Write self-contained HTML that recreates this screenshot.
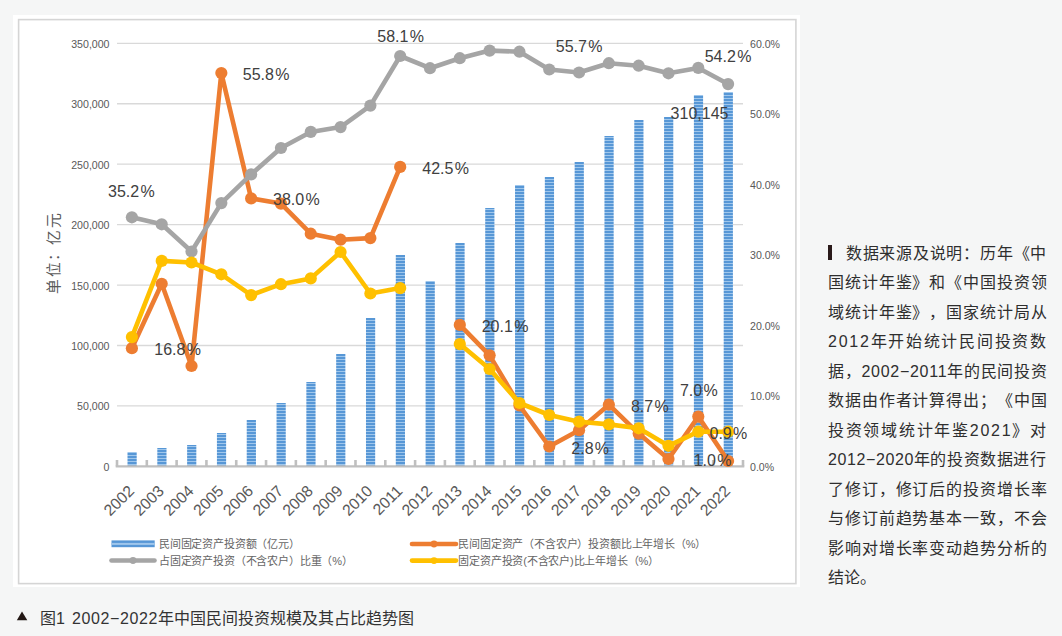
<!DOCTYPE html>
<html lang="zh-CN"><head><meta charset="utf-8">
<style>
html,body{margin:0;padding:0;}
body{width:1062px;height:636px;overflow:hidden;background:#f5f6f6;position:relative;font-family:"Liberation Sans",sans-serif;}
.panel{position:absolute;left:13px;top:15px;width:787px;height:572px;background:#fff;}
.frame{position:absolute;left:18px;top:19px;width:776px;height:563px;border:1px solid #d6d6d6;}
svg{position:absolute;left:0;top:0;}
.ax{font-size:10.6px;fill:#595959;}
.yr{font-size:15.8px;fill:#595959;}
.dl{font-size:16px;fill:#404040;}
.yt{font-size:14.8px;fill:#595959;letter-spacing:1.4px;}
.lg{font-size:11px;fill:#666;letter-spacing:-0.17px;}
.nl{position:absolute;font-size:16px;line-height:20px;color:#2e2e2e;font-weight:500;white-space:nowrap;text-spacing-trim:space-all;}
.nbar{position:absolute;left:828px;top:244.6px;width:4.3px;height:15.3px;background:#2a1a1a;}
.cap{position:absolute;top:609px;font-size:16px;line-height:20px;color:#333;white-space:nowrap;}
</style></head><body>
<div class="panel"></div>
<svg width="1062" height="636" viewBox="0 0 1062 636">
<rect x="18.6" y="19.6" width="777.3" height="564" fill="none" stroke="#d5d5d5" stroke-width="1.6"/>
<defs><pattern id="st" patternUnits="userSpaceOnUse" width="9" height="3" y="0"><rect width="9" height="3" fill="#a0c7ec"/><rect width="9" height="2" fill="#5797d6"/></pattern></defs>
<line x1="117.0" x2="743.0" y1="405.96" y2="405.96" stroke="#d9d9d9" stroke-width="1.3"/>
<line x1="117.0" x2="743.0" y1="345.52" y2="345.52" stroke="#d9d9d9" stroke-width="1.3"/>
<line x1="117.0" x2="743.0" y1="285.08" y2="285.08" stroke="#d9d9d9" stroke-width="1.3"/>
<line x1="117.0" x2="743.0" y1="224.64" y2="224.64" stroke="#d9d9d9" stroke-width="1.3"/>
<line x1="117.0" x2="743.0" y1="164.20" y2="164.20" stroke="#d9d9d9" stroke-width="1.3"/>
<line x1="117.0" x2="743.0" y1="103.76" y2="103.76" stroke="#d9d9d9" stroke-width="1.3"/>
<line x1="117.0" x2="743.0" y1="43.32" y2="43.32" stroke="#d9d9d9" stroke-width="1.3"/>
<rect x="127.50" y="452" width="9.2" height="14" fill="url(#st)"/>
<rect x="157.31" y="448" width="9.2" height="18" fill="url(#st)"/>
<rect x="187.12" y="445" width="9.2" height="21" fill="url(#st)"/>
<rect x="216.93" y="433" width="9.2" height="33" fill="url(#st)"/>
<rect x="246.74" y="420" width="9.2" height="46" fill="url(#st)"/>
<rect x="276.55" y="403" width="9.2" height="63" fill="url(#st)"/>
<rect x="306.36" y="382" width="9.2" height="84" fill="url(#st)"/>
<rect x="336.17" y="354" width="9.2" height="112" fill="url(#st)"/>
<rect x="365.98" y="318" width="9.2" height="148" fill="url(#st)"/>
<rect x="395.79" y="255" width="9.2" height="211" fill="url(#st)"/>
<rect x="425.60" y="281" width="9.2" height="185" fill="url(#st)"/>
<rect x="455.41" y="243" width="9.2" height="223" fill="url(#st)"/>
<rect x="485.22" y="208" width="9.2" height="258" fill="url(#st)"/>
<rect x="515.03" y="185" width="9.2" height="281" fill="url(#st)"/>
<rect x="544.84" y="177" width="9.2" height="289" fill="url(#st)"/>
<rect x="574.65" y="162" width="9.2" height="304" fill="url(#st)"/>
<rect x="604.46" y="136" width="9.2" height="330" fill="url(#st)"/>
<rect x="634.27" y="120" width="9.2" height="346" fill="url(#st)"/>
<rect x="664.08" y="117" width="9.2" height="349" fill="url(#st)"/>
<rect x="693.89" y="95" width="9.2" height="371" fill="url(#st)"/>
<rect x="723.70" y="92" width="9.2" height="374" fill="url(#st)"/>
<line x1="115.7" x2="744.3" y1="466.4" y2="466.4" stroke="#bfbfbf" stroke-width="2.4"/>
<line x1="117.00" x2="117.00" y1="460.0" y2="466.4" stroke="#bfbfbf" stroke-width="2.6"/>
<line x1="146.81" x2="146.81" y1="460.0" y2="466.4" stroke="#bfbfbf" stroke-width="2.6"/>
<line x1="176.62" x2="176.62" y1="460.0" y2="466.4" stroke="#bfbfbf" stroke-width="2.6"/>
<line x1="206.43" x2="206.43" y1="460.0" y2="466.4" stroke="#bfbfbf" stroke-width="2.6"/>
<line x1="236.24" x2="236.24" y1="460.0" y2="466.4" stroke="#bfbfbf" stroke-width="2.6"/>
<line x1="266.05" x2="266.05" y1="460.0" y2="466.4" stroke="#bfbfbf" stroke-width="2.6"/>
<line x1="295.86" x2="295.86" y1="460.0" y2="466.4" stroke="#bfbfbf" stroke-width="2.6"/>
<line x1="325.67" x2="325.67" y1="460.0" y2="466.4" stroke="#bfbfbf" stroke-width="2.6"/>
<line x1="355.48" x2="355.48" y1="460.0" y2="466.4" stroke="#bfbfbf" stroke-width="2.6"/>
<line x1="385.29" x2="385.29" y1="460.0" y2="466.4" stroke="#bfbfbf" stroke-width="2.6"/>
<line x1="415.10" x2="415.10" y1="460.0" y2="466.4" stroke="#bfbfbf" stroke-width="2.6"/>
<line x1="444.90" x2="444.90" y1="460.0" y2="466.4" stroke="#bfbfbf" stroke-width="2.6"/>
<line x1="474.71" x2="474.71" y1="460.0" y2="466.4" stroke="#bfbfbf" stroke-width="2.6"/>
<line x1="504.52" x2="504.52" y1="460.0" y2="466.4" stroke="#bfbfbf" stroke-width="2.6"/>
<line x1="534.33" x2="534.33" y1="460.0" y2="466.4" stroke="#bfbfbf" stroke-width="2.6"/>
<line x1="564.14" x2="564.14" y1="460.0" y2="466.4" stroke="#bfbfbf" stroke-width="2.6"/>
<line x1="593.95" x2="593.95" y1="460.0" y2="466.4" stroke="#bfbfbf" stroke-width="2.6"/>
<line x1="623.76" x2="623.76" y1="460.0" y2="466.4" stroke="#bfbfbf" stroke-width="2.6"/>
<line x1="653.57" x2="653.57" y1="460.0" y2="466.4" stroke="#bfbfbf" stroke-width="2.6"/>
<line x1="683.38" x2="683.38" y1="460.0" y2="466.4" stroke="#bfbfbf" stroke-width="2.6"/>
<line x1="713.19" x2="713.19" y1="460.0" y2="466.4" stroke="#bfbfbf" stroke-width="2.6"/>
<line x1="743.00" x2="743.00" y1="460.0" y2="466.4" stroke="#bfbfbf" stroke-width="2.6"/>
<path d="M131.90,348.20 C131.90,348.20 161.71,283.80 161.71,283.80 C161.71,283.80 191.52,366.00 191.52,366.00 C191.52,366.00 221.33,73.00 221.33,73.00 C221.33,73.00 251.14,198.40 251.14,198.40 C251.14,198.40 280.95,203.60 280.95,203.60 C280.95,203.60 310.76,233.70 310.76,233.70 C310.76,233.70 340.57,239.70 340.57,239.70 C340.57,239.70 370.38,238.10 370.38,238.10 C370.38,238.10 400.19,166.90 400.19,166.90" fill="none" stroke="#ed7d31" stroke-width="4.6" stroke-linejoin="round" stroke-linecap="round"/>
<circle cx="131.90" cy="348.2" r="6.1" fill="#ed7d31"/>
<circle cx="161.71" cy="283.8" r="6.1" fill="#ed7d31"/>
<circle cx="191.52" cy="366" r="6.1" fill="#ed7d31"/>
<circle cx="221.33" cy="73" r="6.1" fill="#ed7d31"/>
<circle cx="251.14" cy="198.4" r="6.1" fill="#ed7d31"/>
<circle cx="280.95" cy="203.6" r="6.1" fill="#ed7d31"/>
<circle cx="310.76" cy="233.7" r="6.1" fill="#ed7d31"/>
<circle cx="340.57" cy="239.7" r="6.1" fill="#ed7d31"/>
<circle cx="370.38" cy="238.1" r="6.1" fill="#ed7d31"/>
<circle cx="400.19" cy="166.9" r="6.1" fill="#ed7d31"/>
<path d="M459.81,324.90 C459.81,324.90 489.62,355.30 489.62,355.30 C489.62,355.30 519.43,405.50 519.43,405.50 C519.43,405.50 549.24,446.50 549.24,446.50 C549.24,446.50 579.05,430.20 579.05,430.20 C579.05,430.20 608.86,404.70 608.86,404.70 C608.86,404.70 638.67,433.60 638.67,433.60 C638.67,433.60 668.48,459.00 668.48,459.00 C668.48,459.00 698.29,416.60 698.29,416.60 C698.29,416.60 728.10,461.00 728.10,461.00" fill="none" stroke="#ed7d31" stroke-width="4.6" stroke-linejoin="round" stroke-linecap="round"/>
<circle cx="459.81" cy="324.9" r="6.1" fill="#ed7d31"/>
<circle cx="489.62" cy="355.3" r="6.1" fill="#ed7d31"/>
<circle cx="519.43" cy="405.5" r="6.1" fill="#ed7d31"/>
<circle cx="549.24" cy="446.5" r="6.1" fill="#ed7d31"/>
<circle cx="579.05" cy="430.2" r="6.1" fill="#ed7d31"/>
<circle cx="608.86" cy="404.7" r="6.1" fill="#ed7d31"/>
<circle cx="638.67" cy="433.6" r="6.1" fill="#ed7d31"/>
<circle cx="668.48" cy="459" r="6.1" fill="#ed7d31"/>
<circle cx="698.29" cy="416.6" r="6.1" fill="#ed7d31"/>
<circle cx="728.10" cy="461" r="6.1" fill="#ed7d31"/>
<path d="M131.90,217.30 C131.90,217.30 161.71,224.30 161.71,224.30 C161.71,224.30 191.52,251.50 191.52,251.50 C191.52,251.50 221.33,203.10 221.33,203.10 C221.33,203.10 251.14,174.40 251.14,174.40 C251.14,174.40 280.95,148.00 280.95,148.00 C280.95,148.00 310.76,131.90 310.76,131.90 C310.76,131.90 340.57,127.10 340.57,127.10 C340.57,127.10 370.38,105.60 370.38,105.60 C370.38,105.60 400.19,56.00 400.19,56.00 C400.19,56.00 430.00,68.20 430.00,68.20 C430.00,68.20 459.81,58.20 459.81,58.20 C459.81,58.20 489.62,50.60 489.62,50.60 C489.62,50.60 519.43,51.70 519.43,51.70 C519.43,51.70 549.24,69.50 549.24,69.50 C549.24,69.50 579.05,72.50 579.05,72.50 C579.05,72.50 608.86,63.20 608.86,63.20 C608.86,63.20 638.67,65.70 638.67,65.70 C638.67,65.70 668.48,73.30 668.48,73.30 C668.48,73.30 698.29,67.90 698.29,67.90 C698.29,67.90 728.10,84.10 728.10,84.10" fill="none" stroke="#a5a5a5" stroke-width="4.6" stroke-linejoin="round" stroke-linecap="round"/>
<circle cx="131.90" cy="217.3" r="6.1" fill="#a5a5a5"/>
<circle cx="161.71" cy="224.3" r="6.1" fill="#a5a5a5"/>
<circle cx="191.52" cy="251.5" r="6.1" fill="#a5a5a5"/>
<circle cx="221.33" cy="203.1" r="6.1" fill="#a5a5a5"/>
<circle cx="251.14" cy="174.4" r="6.1" fill="#a5a5a5"/>
<circle cx="280.95" cy="148" r="6.1" fill="#a5a5a5"/>
<circle cx="310.76" cy="131.9" r="6.1" fill="#a5a5a5"/>
<circle cx="340.57" cy="127.1" r="6.1" fill="#a5a5a5"/>
<circle cx="370.38" cy="105.6" r="6.1" fill="#a5a5a5"/>
<circle cx="400.19" cy="56" r="6.1" fill="#a5a5a5"/>
<circle cx="430.00" cy="68.2" r="6.1" fill="#a5a5a5"/>
<circle cx="459.81" cy="58.2" r="6.1" fill="#a5a5a5"/>
<circle cx="489.62" cy="50.6" r="6.1" fill="#a5a5a5"/>
<circle cx="519.43" cy="51.7" r="6.1" fill="#a5a5a5"/>
<circle cx="549.24" cy="69.5" r="6.1" fill="#a5a5a5"/>
<circle cx="579.05" cy="72.5" r="6.1" fill="#a5a5a5"/>
<circle cx="608.86" cy="63.2" r="6.1" fill="#a5a5a5"/>
<circle cx="638.67" cy="65.7" r="6.1" fill="#a5a5a5"/>
<circle cx="668.48" cy="73.3" r="6.1" fill="#a5a5a5"/>
<circle cx="698.29" cy="67.9" r="6.1" fill="#a5a5a5"/>
<circle cx="728.10" cy="84.1" r="6.1" fill="#a5a5a5"/>
<path d="M131.90,337.10 C131.90,337.10 161.71,260.90 161.71,260.90 C161.71,260.90 191.52,262.50 191.52,262.50 C191.52,262.50 221.33,274.30 221.33,274.30 C221.33,274.30 251.14,295.10 251.14,295.10 C251.14,295.10 280.95,284.20 280.95,284.20 C280.95,284.20 310.76,278.40 310.76,278.40 C310.76,278.40 340.57,252.00 340.57,252.00 C340.57,252.00 370.38,293.50 370.38,293.50 C370.38,293.50 400.19,288.10 400.19,288.10" fill="none" stroke="#ffc000" stroke-width="4.6" stroke-linejoin="round" stroke-linecap="round"/>
<circle cx="131.90" cy="337.1" r="6.1" fill="#ffc000"/>
<circle cx="161.71" cy="260.9" r="6.1" fill="#ffc000"/>
<circle cx="191.52" cy="262.5" r="6.1" fill="#ffc000"/>
<circle cx="221.33" cy="274.3" r="6.1" fill="#ffc000"/>
<circle cx="251.14" cy="295.1" r="6.1" fill="#ffc000"/>
<circle cx="280.95" cy="284.2" r="6.1" fill="#ffc000"/>
<circle cx="310.76" cy="278.4" r="6.1" fill="#ffc000"/>
<circle cx="340.57" cy="252" r="6.1" fill="#ffc000"/>
<circle cx="370.38" cy="293.5" r="6.1" fill="#ffc000"/>
<circle cx="400.19" cy="288.1" r="6.1" fill="#ffc000"/>
<path d="M459.81,344.10 C459.81,344.10 489.62,369.00 489.62,369.00 C489.62,369.00 519.43,403.00 519.43,403.00 C519.43,403.00 549.24,415.00 549.24,415.00 C549.24,415.00 579.05,421.70 579.05,421.70 C579.05,421.70 608.86,424.40 608.86,424.40 C608.86,424.40 638.67,428.30 638.67,428.30 C638.67,428.30 668.48,445.80 668.48,445.80 C668.48,445.80 698.29,431.70 698.29,431.70 C698.29,431.70 728.10,431.70 728.10,431.70" fill="none" stroke="#ffc000" stroke-width="4.6" stroke-linejoin="round" stroke-linecap="round"/>
<circle cx="459.81" cy="344.1" r="6.1" fill="#ffc000"/>
<circle cx="489.62" cy="369" r="6.1" fill="#ffc000"/>
<circle cx="519.43" cy="403" r="6.1" fill="#ffc000"/>
<circle cx="549.24" cy="415" r="6.1" fill="#ffc000"/>
<circle cx="579.05" cy="421.7" r="6.1" fill="#ffc000"/>
<circle cx="608.86" cy="424.4" r="6.1" fill="#ffc000"/>
<circle cx="638.67" cy="428.3" r="6.1" fill="#ffc000"/>
<circle cx="668.48" cy="445.8" r="6.1" fill="#ffc000"/>
<circle cx="698.29" cy="431.7" r="6.1" fill="#ffc000"/>
<circle cx="728.10" cy="431.7" r="6.1" fill="#ffc000"/>
<text x="109.5" y="470.90" text-anchor="end" class="ax">0</text>
<text x="109.5" y="410.46" text-anchor="end" class="ax">50,000</text>
<text x="109.5" y="350.02" text-anchor="end" class="ax">100,000</text>
<text x="109.5" y="289.58" text-anchor="end" class="ax">150,000</text>
<text x="109.5" y="229.14" text-anchor="end" class="ax">200,000</text>
<text x="109.5" y="168.70" text-anchor="end" class="ax">250,000</text>
<text x="109.5" y="108.26" text-anchor="end" class="ax">300,000</text>
<text x="109.5" y="47.82" text-anchor="end" class="ax">350,000</text>
<text x="750" y="470.60" class="ax">0.0%</text>
<text x="750" y="400.10" class="ax">10.0%</text>
<text x="750" y="329.60" class="ax">20.0%</text>
<text x="750" y="259.10" class="ax">30.0%</text>
<text x="750" y="188.60" class="ax">40.0%</text>
<text x="750" y="118.10" class="ax">50.0%</text>
<text x="750" y="47.60" class="ax">60.0%</text>
<text transform="translate(135.10,492) rotate(-45)" text-anchor="end" class="yr">2002</text>
<text transform="translate(164.91,492) rotate(-45)" text-anchor="end" class="yr">2003</text>
<text transform="translate(194.72,492) rotate(-45)" text-anchor="end" class="yr">2004</text>
<text transform="translate(224.53,492) rotate(-45)" text-anchor="end" class="yr">2005</text>
<text transform="translate(254.34,492) rotate(-45)" text-anchor="end" class="yr">2006</text>
<text transform="translate(284.15,492) rotate(-45)" text-anchor="end" class="yr">2007</text>
<text transform="translate(313.96,492) rotate(-45)" text-anchor="end" class="yr">2008</text>
<text transform="translate(343.77,492) rotate(-45)" text-anchor="end" class="yr">2009</text>
<text transform="translate(373.58,492) rotate(-45)" text-anchor="end" class="yr">2010</text>
<text transform="translate(403.39,492) rotate(-45)" text-anchor="end" class="yr">2011</text>
<text transform="translate(433.20,492) rotate(-45)" text-anchor="end" class="yr">2012</text>
<text transform="translate(463.01,492) rotate(-45)" text-anchor="end" class="yr">2013</text>
<text transform="translate(492.82,492) rotate(-45)" text-anchor="end" class="yr">2014</text>
<text transform="translate(522.63,492) rotate(-45)" text-anchor="end" class="yr">2015</text>
<text transform="translate(552.44,492) rotate(-45)" text-anchor="end" class="yr">2016</text>
<text transform="translate(582.25,492) rotate(-45)" text-anchor="end" class="yr">2017</text>
<text transform="translate(612.06,492) rotate(-45)" text-anchor="end" class="yr">2018</text>
<text transform="translate(641.87,492) rotate(-45)" text-anchor="end" class="yr">2019</text>
<text transform="translate(671.68,492) rotate(-45)" text-anchor="end" class="yr">2020</text>
<text transform="translate(701.49,492) rotate(-45)" text-anchor="end" class="yr">2021</text>
<text transform="translate(731.30,492) rotate(-45)" text-anchor="end" class="yr">2022</text>
<text x="108.0" y="196.50" class="dl">35.2<tspan dx="1.3">%</tspan></text>
<text x="242.8" y="79.70" class="dl">55.8<tspan dx="1.3">%</tspan></text>
<text x="273.0" y="205.30" class="dl">38.0<tspan dx="1.3">%</tspan></text>
<text x="377.3" y="42.30" class="dl">58.1<tspan dx="1.3">%</tspan></text>
<text x="555.8" y="52.10" class="dl">55.7<tspan dx="1.3">%</tspan></text>
<text x="704.6999999999999" y="62.30" class="dl">54.2<tspan dx="1.3">%</tspan></text>
<text x="670.5999999999999" y="118.90" class="dl">310,145</text>
<text x="422.3" y="174.20" class="dl">42.5<tspan dx="1.3">%</tspan></text>
<text x="154.3" y="354.90" class="dl">16.8<tspan dx="1.3">%</tspan></text>
<text x="481.7" y="331.90" class="dl">20.1<tspan dx="1.3">%</tspan></text>
<text x="571.3" y="453.80" class="dl">2.8<tspan dx="1.3">%</tspan></text>
<text x="630.9" y="412.10" class="dl">8.7<tspan dx="1.3">%</tspan></text>
<text x="679.9" y="395.50" class="dl">7.0<tspan dx="1.3">%</tspan></text>
<text x="709.5" y="438.50" class="dl">0.9<tspan dx="1.3">%</tspan></text>
<text x="693.6999999999999" y="465.90" class="dl">1.0<tspan dx="1.3">%</tspan></text>
<text transform="translate(59,252.7) rotate(-90)" text-anchor="middle" class="yt">单位：亿元</text>
<rect x="111.5" y="540.4" width="43.2" height="6.8" fill="#5797d6"/><rect x="111.5" y="542.9" width="43.2" height="2" fill="#9fc6ec"/>
<line x1="111.5" x2="154.5" y1="560.5" y2="560.5" stroke="#a5a5a5" stroke-width="4.6" stroke-linecap="round"/><circle cx="133" cy="560.5" r="3.4" fill="#a5a5a5"/>
<line x1="412" x2="456" y1="544" y2="544" stroke="#ed7d31" stroke-width="4.6" stroke-linecap="round"/><circle cx="434" cy="544" r="3.4" fill="#ed7d31"/>
<line x1="412" x2="456" y1="560.6" y2="560.6" stroke="#ffc000" stroke-width="4.6" stroke-linecap="round"/><circle cx="434" cy="560.6" r="3.4" fill="#ffc000"/>
<text x="159" y="547.5" class="lg">民间固定资产投资额（亿元）</text>
<text x="159" y="565" class="lg">占固定资产投资（不含农户）比重（%）</text>
<text x="458.3" y="548" class="lg">民间固定资产（不含农户）投资额比上年增长（%）</text>
<text x="458.3" y="565" class="lg">固定资产投资(不含农户)比上年增长（%）</text>
</svg>
<div class="nl" id="nl0" style="top:243.50px;left:845.8px;letter-spacing:0.773px">数据来源及说明：历年《中</div>
<div class="nl" id="nl1" style="top:273.00px;left:828px;letter-spacing:0.875px">国统计年鉴》和《中国投资领</div>
<div class="nl" id="nl2" style="top:302.50px;left:828px;letter-spacing:0.875px">域统计年鉴》，国家统计局从</div>
<div class="nl" id="nl3" style="top:332.00px;left:828px;letter-spacing:1.731px">2012年开始统计民间投资数</div>
<div class="nl" id="nl4" style="top:361.50px;left:828px;letter-spacing:0.719px">据，2002−2011年的民间投资</div>
<div class="nl" id="nl5" style="top:391.00px;left:828px;letter-spacing:0.875px">数据由作者计算得出；《中国</div>
<div class="nl" id="nl6" style="top:420.50px;left:828px;letter-spacing:1.731px">投资领域统计年鉴2021》对</div>
<div class="nl" id="nl7" style="top:450.00px;left:828px;letter-spacing:0.594px">2012−2020年的投资数据进行</div>
<div class="nl" id="nl8" style="top:479.50px;left:828px;letter-spacing:0.875px">了修订，修订后的投资增长率</div>
<div class="nl" id="nl9" style="top:509.00px;left:828px;letter-spacing:0.875px">与修订前趋势基本一致，不会</div>
<div class="nl" id="nl10" style="top:538.50px;left:828px;letter-spacing:0.875px">影响对增长率变动趋势分析的</div>
<div class="nl" id="nl11" style="top:568.00px;left:828px;letter-spacing:0.000px">结论。</div>
<div class="nbar"></div>
<svg class="tri" width="12" height="10" style="position:absolute;left:16px;top:611px"><path d="M0.8 9.3 L6 0.6 L11.3 9.3 Z" fill="#231815"/></svg><div class="cap" style="left:40px">图1</div><div class="cap" id="cap2" style="left:72px;letter-spacing:0.600px">2002−2022</div><div class="cap" style="left:158px">年中国民间投资规模及其占比趋势图</div>
</body></html>
